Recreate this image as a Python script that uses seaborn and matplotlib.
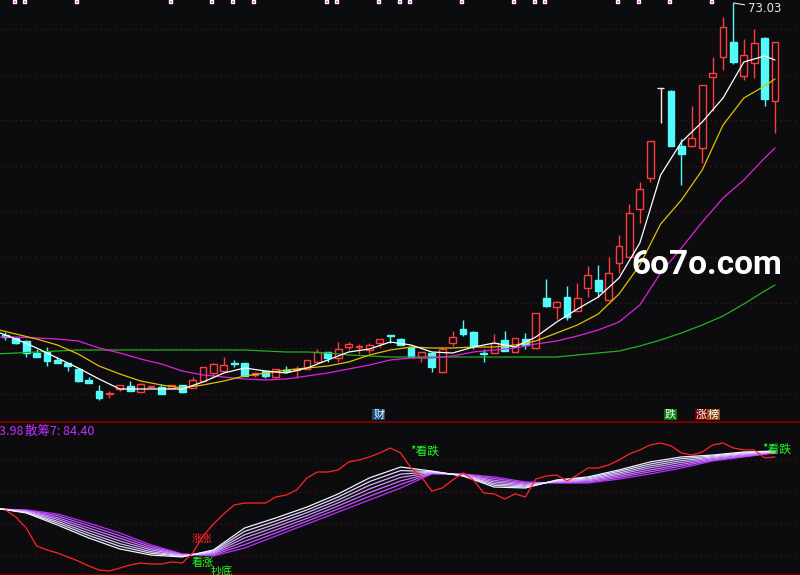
import numpy as np
import pandas as pd
import matplotlib
matplotlib.use("Agg")
import matplotlib.pyplot as plt
import seaborn as sns

bg = '#0c0c0f'
sns.set_theme(style="dark", rc={"axes.facecolor": bg, "figure.facecolor": bg,
                                "savefig.facecolor": bg})
plt.rcParams['font.family'] = ['Noto Sans CJK SC', 'DejaVu Sans']

# ---- candles (chart units) ----
open_ = [87, 84, 81, 69, 70, 62, 59, 53, 42, 31,
         28.5, 33, 36, 30, 35, 35, 34, 37, 34, 41,
         49, 51, 59.5, 59, 47, 51, 45, 52.5, 52.5, 53,
         60, 70, 64, 75, 75, 72, 79, 87, 83, 75,
         65, 69, 50, 79, 93, 90, 69.5, 69, 82, 70,
         83, 74, 124, 115, 125, 111, 134, 142, 122, 159,
         165, 213, 244, 334, 331, 276, 276, 274, 345, 365,
         380, 346, 359, 384, 321]
close = [85, 79, 69, 65, 61, 59, 56, 41, 39, 24,
         29.5, 37, 31, 38, 36, 28, 37, 30, 42, 55,
         58, 57, 58.5, 46, 49, 46, 53, 51.5, 53.5, 62,
         70, 64, 73, 78, 76, 77, 83, 86, 77, 65,
         70, 55, 73, 85, 88, 76, 68.5, 79, 71, 84,
         77, 109, 116, 120, 105, 124, 147, 131, 149, 176,
         209, 233, 281, 334, 276, 268, 284, 337, 349, 395,
         360, 367, 379, 323, 380]
high = [90, 85, 82, 73, 75, 65, 59, 53, 45, 37,
        31, 37, 41, 39, 36, 38, 37, 37, 45, 55,
        59, 65, 62, 59, 50, 51, 53, 56, 56, 62,
        73, 70, 80, 80, 78, 79, 83, 87, 84, 75,
        70, 70, 75, 91, 102, 91, 73, 88, 91, 84,
        89, 109, 143, 121, 136, 139, 156, 157, 165, 187,
        218, 240, 281, 334, 332, 283, 316, 337, 365, 405,
        419, 383, 393, 385, 380]
low = [82, 78, 65, 65, 56, 59, 51, 40, 39, 22,
       24, 31, 31, 30, 35, 28, 34, 29, 34, 41,
       46, 51, 55, 46, 45, 44, 44, 49, 44, 53,
       60, 60, 60, 72, 68, 69, 75, 79, 77, 65,
       60, 50, 49, 76, 86, 73, 60, 69, 71, 70,
       73, 73, 115, 103, 102, 111, 125, 125, 122, 149,
       165, 199, 240, 299, 276, 237, 275, 259, 311, 352,
       358, 342, 344, 316, 289]
high_label = "73.03"

# ---- moving averages, sampled every 2 bars ----
ma_idx = [-1, 1, 3, 5, 7, 9, 11, 13, 15, 17,
          19, 21, 23, 25, 27, 29, 31, 33, 35, 37,
          39, 41, 43, 45, 47, 49, 51, 53, 55, 57,
          59, 61, 63, 65, 67, 69, 71, 73, 74]
ma5 = [91, 83, 74, 64, 54, 43, 33, 33, 33, 33,
       40, 49, 54, 51, 49, 54, 62, 70, 73, 80,
       77, 70, 69, 75, 79, 75, 85, 100, 113, 125,
       144, 179, 247, 280, 300, 324, 360, 366, 362]
ma10 = [93, 88, 83, 77, 68, 56, 48, 41, 37, 34,
        37, 41, 46, 49, 52, 54, 56, 60, 67, 72,
        75, 74, 74, 75, 75, 77, 81, 89, 97, 108,
        128, 157, 198, 222, 252, 297, 324, 336, 343]
ma20 = [85, 85, 84, 83, 81, 74, 69, 63, 58, 51,
        47, 45, 43, 42, 43, 46, 49, 53, 57, 62,
        64, 64, 66, 70, 72, 74, 78, 81, 86, 92,
        100, 117, 149, 174, 200, 224, 242, 264, 274]
ma60 = [68, 69, 70, 71, 72, 72, 72, 72, 72, 72,
        72, 72, 72, 71, 70, 70, 69, 67, 66, 65,
        65, 65, 65, 65, 65, 65, 65, 65, 67, 69,
        71, 76, 82, 89, 97, 106, 118, 131, 137]

mark_idx = [1, 2, 7, 16, 20, 22, 24, 31, 32, 36, 38, 39, 44, 49, 51, 52, 59, 61, 64, 68]

# ---- lower indicator ----
lo_idx = list(range(-1, 75, 3))
san1 = [50.0, 46.9, 39.4, 31.3, 24.4, 20.6, 19.4, 23.8, 37.5, 43.8, 50.6, 58.8, 68.8,
        75.6, 73.1, 70.0, 63.1, 62.5, 67.5, 69.4, 73.8, 78.8, 81.9, 83.1, 85.0, 85.6]
san2 = [49.9, 47.2, 40.6, 32.9, 26.1, 21.7, 19.7, 23.2, 35.4, 41.9, 48.8, 56.9, 66.5,
        73.4, 72.8, 70.2, 64.2, 63.1, 67.2, 68.8, 72.9, 77.5, 80.8, 82.5, 84.5, 85.4]
san3 = [49.8, 47.5, 41.7, 34.4, 27.7, 22.7, 20.0, 22.5, 33.3, 40.0, 47.1, 55.0, 64.2,
        71.2, 72.5, 70.4, 65.2, 63.8, 66.9, 68.1, 71.9, 76.3, 79.6, 81.9, 84.0, 85.2]
san4 = [49.7, 47.9, 42.9, 36.0, 29.4, 23.8, 20.4, 21.9, 31.3, 38.2, 45.3, 53.2, 61.9,
        69.1, 72.2, 70.7, 66.3, 64.4, 66.6, 67.5, 71.0, 75.1, 78.5, 81.3, 83.5, 85.0]
san5 = [49.6, 48.2, 44.0, 37.5, 31.1, 24.8, 20.7, 21.3, 29.2, 36.3, 43.5, 51.3, 59.6,
        66.9, 71.9, 70.9, 67.3, 65.0, 66.2, 66.9, 70.0, 73.8, 77.3, 80.6, 82.9, 84.8]
san6 = [49.5, 48.5, 45.2, 39.1, 32.7, 25.9, 21.0, 20.6, 27.1, 34.4, 41.8, 49.4, 57.3,
        64.7, 71.6, 71.1, 68.4, 65.7, 65.9, 66.2, 69.1, 72.6, 76.2, 80.0, 82.4, 84.6]
san7 = [49.4, 48.8, 46.3, 40.6, 34.4, 26.9, 21.3, 20.0, 25.0, 32.5, 40.0, 47.5, 55.0,
        62.5, 71.3, 71.3, 69.4, 66.3, 65.6, 65.6, 68.1, 71.3, 75.0, 79.4, 81.9, 84.4]
fast = [48.8, 44.4, 37.5, 26.3, 23.8, 21.9, 19.4, 16.9, 13.8, 11.3,
        10.6, 12.5, 14.4, 15.6, 15.0, 15.0, 16.3, 15.6, 21.9, 32.5,
        40.0, 46.3, 51.9, 53.1, 53.1, 53.1, 56.9, 58.1, 61.3, 68.8,
        72.5, 72.5, 73.8, 78.8, 80.0, 81.9, 84.4, 87.5, 84.4, 75.0,
        69.4, 60.6, 62.5, 67.5, 71.9, 67.5, 59.4, 58.8, 55.6, 58.8,
        56.9, 68.1, 70.0, 70.6, 66.9, 70.6, 75.0, 75.0, 76.9, 80.0,
        83.8, 86.3, 89.4, 90.6, 88.8, 84.4, 83.1, 85.0, 89.4, 90.6,
        87.5, 86.3, 86.3, 81.3, 81.9]
label6 = "散筹6: 83.98"
label7 = "散筹7: 84.40"

up_col, dn_col, line_red = '#ff3c3c', '#54fafa', '#ff2424'
grid_col = '#5e1212'

fig = plt.figure(figsize=(8, 5.75), dpi=100)
ax1 = fig.add_axes([0, 153 / 575, 1, 422 / 575])
ax2 = fig.add_axes([0, 0, 1, 153 / 575])

# ---------------- upper panel ----------------
df = pd.DataFrame({'o': open_, 'c': close, 'h': high, 'l': low})
df['i'] = np.arange(len(df))
cols = np.where(df.c > df.o, up_col, np.where(df.c < df.o, dn_col, '#e8e8e8'))
face = np.where(df.c > df.o, bg, np.where(df.c < df.o, dn_col, '#e8e8e8'))

for g in [393, 347.4, 302, 256, 211, 165, 119, 74, 28]:
    ax1.axhline(g, color=grid_col, lw=0.9, ls=(0, (1, 3)), zorder=0)

ax1.vlines(df.i, df.l, df.h, colors=cols, lw=1, zorder=2)
ax1.bar(df.i, (df.c - df.o).abs(), bottom=df[['o', 'c']].min(axis=1), width=0.66,
        color=face, edgecolor=cols, linewidth=1, zorder=3)

for vals, col in [(ma60, '#22b022'), (ma20, '#e020e0'), (ma10, '#e0c000'), (ma5, '#ffffff')]:
    sns.lineplot(x=ma_idx, y=vals, ax=ax1, color=col, lw=0.9, zorder=4)

ax1.bar(np.array(mark_idx) - 0.15, 2.5, bottom=419.5, width=0.3, color='#ff00ff', zorder=5)

ax1.annotate(high_label, xy=(70, high[70]), xytext=(71.4, 414), color='#e6e6e6',
             fontsize=8.5, family='DejaVu Sans', va='center', ha='left',
             arrowprops=dict(arrowstyle='-', color='#e6e6e6', lw=0.8, shrinkA=0, shrinkB=0))

ax1.text(67.4, 157, '6o7o.com', color='white', fontsize=24, fontweight='bold',
         family='Roboto', ha='center', va='center', zorder=6)

for i, t, fc in [(35.9, '财', '#17497c'), (63.95, '跌', '#007a00'),
                 (66.9, '涨', '#7a0000'), (68.1, '榜', '#8a4a12')]:
    ax1.text(i, 7.5, t, color='white', fontsize=8, ha='center', va='center', zorder=6,
             bbox=dict(boxstyle='square,pad=0.08', fc=fc, ec='none'))

ax1.set_xlim(-0.52, 76.4)
ax1.set_ylim(0, 422)

# ---------------- lower panel ----------------
for g in [80, 60, 40, 20]:
    ax2.axhline(g, color=grid_col, lw=0.9, ls=(0, (1, 3)), zorder=0)

bundle = [san7, san6, san5, san4, san3, san2, san1]
bundle_cols = ['#b830ff', '#c058ff', '#c878ff', '#d098ff', '#d8b8ff', '#e4d8ff', '#f0f2ff']
for vals, col in zip(bundle, bundle_cols):
    sns.lineplot(x=lo_idx, y=vals, ax=ax2, color=col, lw=0.9, zorder=3)
sns.lineplot(x=np.arange(len(fast)), y=fast, ax=ax2, color=line_red, lw=0.9, zorder=4)

green = '#22ff22'
ax2.text(40.3, 85.6, '*看跌', color=green, fontsize=8.5, ha='center', va='center', zorder=6)
ax2.text(74.2, 86.9, '*看跌', color=green, fontsize=8.5, ha='center', va='center', zorder=6)
ax2.text(18.9, 30.6, '涨涨', color='#ff2020', fontsize=7.5, ha='center', va='center', zorder=6)
ax2.text(19.0, 15.6, '看涨', color=green, fontsize=8, ha='center', va='center', zorder=6)
ax2.text(20.8, 10.6, '抄底', color=green, fontsize=8, ha='center', va='center', zorder=6,
         clip_on=True)

ax2.set_xlim(-0.52, 76.4)
ax2.set_ylim(8.125, 103.75)

fig.text(23 / 800, 1 - 431 / 575, label6, ha='right', va='center', color='#c030ff', fontsize=9)
fig.text(25 / 800, 1 - 431 / 575, label7, ha='left', va='center', color='#c030ff', fontsize=9)

for ax in (ax1, ax2):
    ax.set_xticks([])
    ax.set_yticks([])
    ax.set_xlabel('')
    ax.set_ylabel('')
    for s in ax.spines.values():
        s.set_visible(False)
ax2.spines['top'].set_visible(True)
ax2.spines['top'].set_color('#7a0000')
ax2.spines['top'].set_linewidth(1.4)
ax2.spines['bottom'].set_visible(True)
ax2.spines['bottom'].set_color('#7a0000')
ax2.spines['bottom'].set_linewidth(2.5)

fig.savefig('out.png', dpi=100, facecolor=bg)
